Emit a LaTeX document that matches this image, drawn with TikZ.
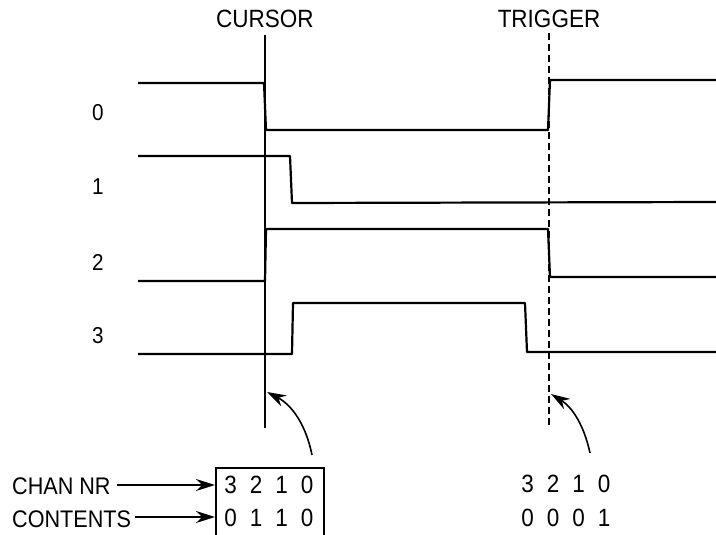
\documentclass[tikz,border=0pt]{standalone}
\usepackage{fontspec}
\setmainfont{Liberation Sans}[FakeStretch=0.9]
\usetikzlibrary{arrows.meta}
\newcommand\dsp{\hspace{13pt}}
\tikzset{
  sig/.style={line width=2.2pt, line join=round},
  mark line/.style={line width=1.4pt},
  trig line/.style={line width=1.4pt, dash pattern=on 7pt off 4pt},
  lbl/.style={font=\fontsize{25}{28}\selectfont, inner sep=0pt, anchor=center},
  chlbl/.style={font=\fontsize{23}{26}\selectfont, inner sep=0pt, anchor=center},
  digits/.style={font=\fontsize{25}{28}\selectfont, inner sep=0pt, anchor=center},
  side/.style={font=\fontsize{24}{27}\selectfont, inner sep=0pt, anchor=west},
  ptr/.style={line width=1.6pt, -{Stealth[length=19pt,width=12pt]}},
  boxline/.style={line width=1.8pt}
}
\begin{document}
\begin{tikzpicture}[x=1pt,y=-1pt]
\useasboundingbox (0,0) rectangle (716,535);
% headings
\node[lbl] (cur) at (265,19) {CURSOR};
\node[lbl] (trg) at (549,19) {TRIGGER};
% channel labels
\node[chlbl] (c0) at (98,113) {0};
\node[chlbl] (c1) at (98,187) {1};
\node[chlbl] (c2) at (98,262) {2};
\node[chlbl] (c3) at (98,336) {3};
% marker lines
\coordinate (curtop) at (265,35);
\coordinate (curbot) at (265,428);
\coordinate (trgtop) at (549,33);
\coordinate (trgbot) at (549,426);
\draw[mark line] (curtop) -- (curbot);
\draw[trig line] (trgtop) -- (trgbot);
% signals
\draw[sig] (138,83) -- (264,83) -- (266,130) -- (548,130) -- (550,80) -- (716,80);
\draw[sig] (138,156) -- (290,156) -- (292,203) -- (716,202);
\draw[sig] (138,281) -- (265,281) -- (266,229) -- (548,229) -- (550,277) -- (716,277);
\draw[sig] (138,354) -- (292,354) -- (293,303) -- (525,303) -- (527,352) -- (716,352);
% box
\coordinate (bl) at (216,535);
\coordinate (tl) at (216,468);
\coordinate (tr) at (324,468);
\coordinate (br) at (324,535);
\draw[boxline] (bl) -- (tl) -- (tr) -- (br);
\node[digits] (b1) at (269,485) {3\dsp 2\dsp 1\dsp 0};
\node[digits] (b2) at (269,518) {0\dsp 1\dsp 1\dsp 0};
% left labels and arrows
\node[side] (chan) at (12,486) {CHAN NR};
\node[side] (cont) at (12,519) {CONTENTS};
\coordinate (a1) at (215,485);
\coordinate (a2) at (215,517);
\draw[ptr] ([xshift=6pt]chan.east |- a1) -- (a1);
\draw[ptr] ([xshift=4pt]cont.east |- a2) -- (a2);
% right digits
\node[digits] (r1) at (566,484) {3\dsp 2\dsp 1\dsp 0};
\node[digits] (r2) at (566,518) {0\dsp 0\dsp 0\dsp 1};
% curved pointers
\coordinate (ct) at (312,455);
\coordinate (cp) at (267,392);
\draw[ptr] (ct) .. controls (306,425) and (292,405) .. (cp);
\coordinate (tt) at (590,453);
\coordinate (tp) at (551,394);
\draw[ptr] (tt) .. controls (584,425) and (572,407) .. (tp);
\end{tikzpicture}
\end{document}
